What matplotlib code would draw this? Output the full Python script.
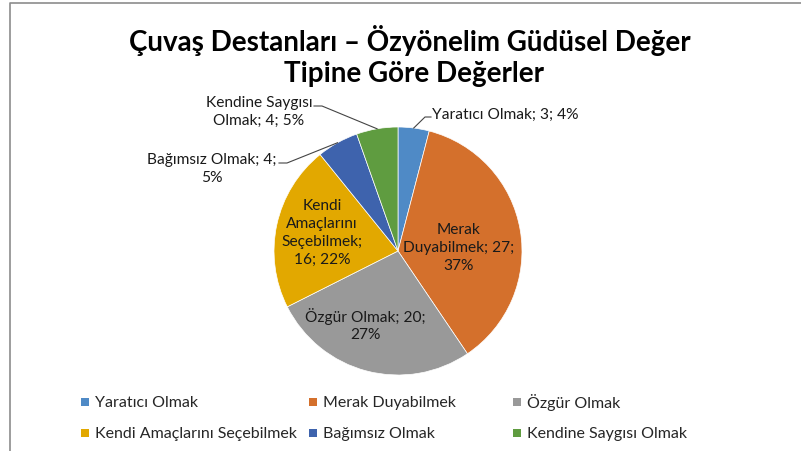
import numpy as np
import matplotlib
matplotlib.use("Agg")
import matplotlib.pyplot as plt
from matplotlib.patches import Rectangle

plt.rcParams["font.family"] = ["Lato", "DejaVu Sans"]

# data
names = ["Yaratıcı Olmak", "Merak Duyabilmek", "Özgür Olmak",
         "Kendi Amaçlarını Seçebilmek", "Bağımsız Olmak", "Kendine Saygısı Olmak"]
counts = [3, 27, 20, 16, 4, 4]
percents = [4, 37, 27, 22, 5, 5]
colors = ["#4f8ac6", "#d4702c", "#999999", "#e2a800", "#3e63ad", "#5f9c40"]

W, H = 801, 452
fig = plt.figure(figsize=(W / 100, H / 100), dpi=100)
ax = fig.add_axes([0, 0, 1, 1])

def py(y):
    return H - y

CX, CY, R = 398, 252, 124
wedges, _ = ax.pie(counts, colors=colors, startangle=90, counterclock=False,
                   center=(CX, py(CY)), radius=R,
                   wedgeprops=dict(edgecolor="white", linewidth=0.5))
ax.set_xlim(0, W)
ax.set_ylim(0, H)
ax.set_aspect("equal")
ax.axis("off")

# chart border (cropped at right and bottom in the reference)
ax.plot([9.5, 9.5, W], [0, py(3.5), py(3.5)], color="#8c8c8c", lw=1.2,
        solid_capstyle="butt")

ax.text(410, py(40), "Çuvaş Destanları – Özyönelim Güdüsel Değer",
        ha="center", va="center", fontsize=20, fontweight="bold")
ax.text(414, py(74), "Tipine Göre Değerler",
        ha="center", va="center", fontsize=20, fontweight="bold")

# data labels: text layout per slice
label_text = [
    f"{names[0]}; {counts[0]}; {percents[0]}%",
    f"Merak\nDuyabilmek; {counts[1]};\n{percents[1]}%",
    f"Özgür Olmak; {counts[2]};\n{percents[2]}%",
    f"Kendi\nAmaçlarını\nSeçebilmek;\n{counts[3]}; {percents[3]}%",
    f"Bağımsız Olmak; {counts[4]};\n{percents[4]}%",
    f"Kendine Saygısı\nOlmak; {counts[5]}; {percents[5]}%",
]
label_pos = [(505, 115), (459, 248), (365, 325), (322, 233), (212, 169), (259, 112)]
LFS = 11.2
for i, (txt, (x, y)) in enumerate(zip(label_text, label_pos)):
    ax.text(x, py(y), txt, ha="center", va="center", fontsize=LFS,
            color="#1a1a1a", linespacing=1.35)

# leader lines for the small outside slices
cum = np.cumsum([0] + counts) / sum(counts) * 360
def edge_point(i):
    a = np.deg2rad((cum[i] + cum[i + 1]) / 2)
    return CX + R * np.sin(a), py(CY - R * np.cos(a))

x0, y0 = edge_point(0)
ax.plot([x0, 425, 431], [y0, py(118), py(118)], color="#444444", lw=0.8)
x0, y0 = edge_point(5)
ax.plot([x0, 322, 314], [y0, py(107), py(107)], color="#444444", lw=0.8)
x0, y0 = edge_point(4)
ax.plot([x0, 287, 279], [y0, py(164), py(164)], color="#444444", lw=0.8)

# legend, laid out as in the reference (row-wise, three columns)
col_x = [85, 313, 517]
row_y = [403, 434]
for i, (name, c) in enumerate(zip(names, colors)):
    x = col_x[i % 3]
    y = row_y[i // 3]
    ax.add_patch(Rectangle((x - 4, py(y) - 4), 8, 8, facecolor=c, edgecolor="none"))
    ax.text(x + 10, py(y), name, ha="left", va="center", fontsize=11.5,
            color="#262626")

fig.savefig("out.png", dpi=100, facecolor="white")
